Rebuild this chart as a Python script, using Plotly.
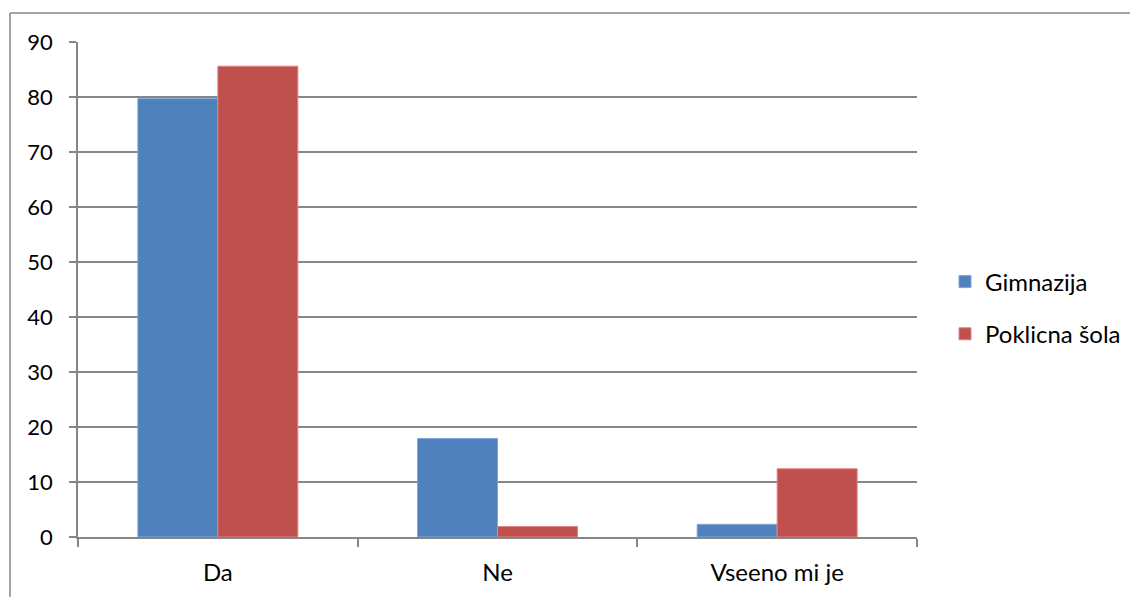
import plotly.graph_objects as go

categories = ["Da", "Ne", "Vseeno mi je"]
gimnazija = [79.7, 17.9, 2.3]
poklicna = [85.6, 1.9, 12.4]
y_ticks = [0, 10, 20, 30, 40, 50, 60, 70, 80, 90]

FONT = "Lato"
GRID = "#868686"

fig = go.Figure()
fig.add_trace(go.Bar(x=categories, y=gimnazija, name="Gimnazija", legendgroup="g1",
                     marker=dict(color="#4F81BD", line=dict(color="#7EA6DA", width=1))))
fig.add_trace(go.Bar(x=categories, y=poklicna, name="Poklicna šola", legendgroup="g2",
                     marker=dict(color="#C0504D", line=dict(color="#E08582", width=1))))

OFF = 8  # page body offset
W, H = 1130, 589
L, R, T, B = 78 - OFF, 917 - OFF, 42 - OFF, 537 - OFF
pw, ph = R - L, B - T

def px(x):
    return (x - OFF - L) / pw

def py(y):
    return (B - (y - OFF)) / ph

fig.update_layout(
    width=W, height=H,
    margin=dict(l=L, r=W - R, t=T, b=H - B),
    paper_bgcolor="white", plot_bgcolor="white",
    barmode="group", bargap=0.428, bargroupgap=0,
    font=dict(family=FONT, size=22, color="#000000"),
    legend=dict(x=px(945), y=py(308), xanchor="left", yanchor="middle",
                font=dict(family=FONT, size=24), tracegroupgap=18,
                bgcolor="rgba(0,0,0,0)"),
    xaxis=dict(type="category", showline=True, linecolor=GRID, linewidth=1.5,
               ticks="outside", tickson="boundaries", ticklen=8, tickcolor=GRID,
               tickwidth=1.5, showgrid=False, ticklabelstandoff=13,
               tickfont=dict(family=FONT, size=24)),
    yaxis=dict(range=[0, 90], tickvals=y_ticks, showline=True, linecolor=GRID,
               linewidth=1.5, ticks="outside", ticklen=7, tickcolor=GRID, tickwidth=1.5,
               showgrid=True, gridcolor=GRID, gridwidth=1.5, zeroline=False,
               ticklabelstandoff=12, tickfont=dict(family=FONT, size=22)),
    shapes=[
        dict(type="line", xref="paper", yref="paper", x0=px(10), x1=px(1200),
             y0=py(13), y1=py(13), line=dict(color=GRID, width=1.5)),
        dict(type="line", xref="paper", yref="paper", x0=px(10), x1=px(10),
             y0=py(13), y1=py(700), line=dict(color=GRID, width=1.5)),
    ],
)

fig.write_html("out.html")
